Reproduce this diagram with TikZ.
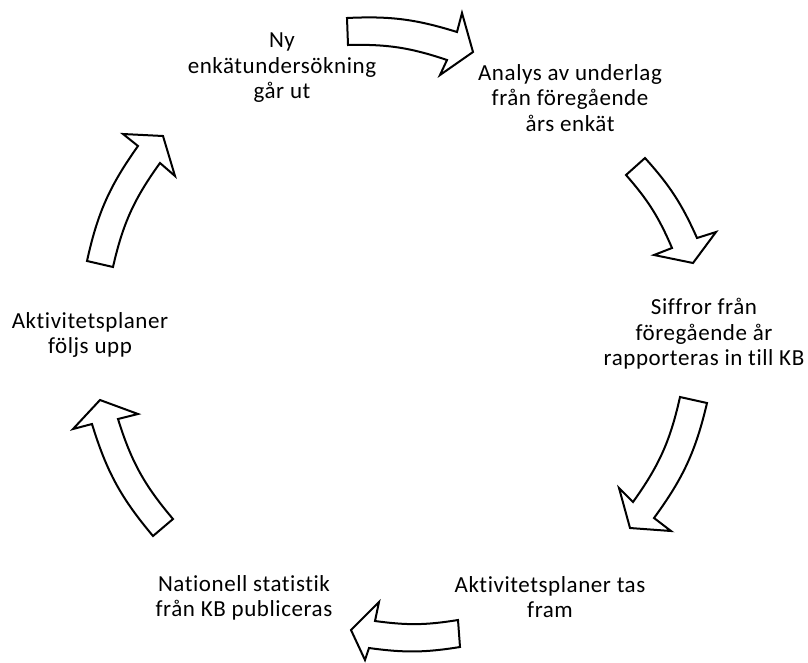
\documentclass[tikz,border=0pt]{standalone}
\usepackage{fontspec}
\setmainfont{Carlito}[LetterSpace=2.5, Ligatures=NoCommon]
\begin{document}
\begin{tikzpicture}[x=1pt,y=1pt,
  blockarrow/.style={draw=black, line width=2pt, line join=miter, miter limit=10, fill=white},
  steplabel/.style={align=center, font=\fontsize{23}{25.5}\selectfont, inner sep=0pt, text=black}]
\useasboundingbox (0,0) rectangle (808,-662);
% texts
\node[steplabel] (t1) at (282,-68) {Ny\\enkätundersökning\\går ut};
\node[steplabel] (t2) at (570,-98) {Analys av underlag\\från föregående\\års enkät};
\node[steplabel] (t3) at (704,-334) {Siffror från\\föregående år\\rapporteras in till KB};
\node[steplabel] (t4) at (550,-597) {Aktivitetsplaner tas\\fram};
\node[steplabel] (t5) at (244,-598) {Nationell statistik\\från KB publiceras};
\node[steplabel] (t6) at (90,-335) {Aktivitetsplaner\\följs upp};
% arrows
\draw[blockarrow] (347,-18) to[bend left=10] (457,-32) -- (462,-13) -- (473,-52) -- (440,-75) -- (447,-60) to[bend right=10] (348,-45) -- cycle;
\draw[blockarrow] (645,-158) to[bend left=9] (697,-238) -- (716,-232) -- (693,-263) -- (654,-255) -- (672,-248) to[bend right=9] (626,-175) -- cycle;
\draw[blockarrow] (707,-403) to[bend left=11.5] (654,-518) -- (671,-531) -- (630,-528) -- (619,-488) -- (633,-502) to[bend right=11.5] (680,-397) -- cycle;
\draw[blockarrow] (460,-647) to[bend left=8.5] (369,-648) -- (365,-660) -- (351,-630) -- (379,-602) -- (375,-621) to[bend right=8.5] (458,-620) -- cycle;
\draw[blockarrow] (153,-536) to[bend left=11.5] (92,-424) -- (73,-429) -- (100,-400) -- (138,-414) -- (118,-419) to[bend right=11.5] (173,-519) -- cycle;
\draw[blockarrow] (87,-261) to[bend left=11.5] (138,-146) -- (123,-134) -- (163,-136) -- (175,-176) -- (160,-163) to[bend right=11.5] (113,-267) -- cycle;
\end{tikzpicture}
\end{document}
